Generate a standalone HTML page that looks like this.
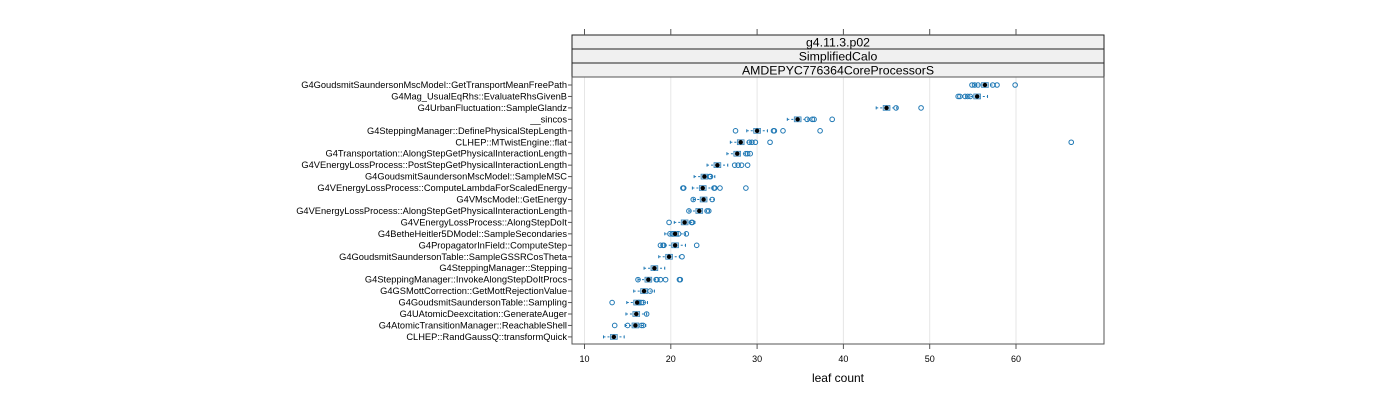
<!DOCTYPE html>
<html><head><meta charset="utf-8"><style>
body{margin:0;background:#fff}
svg{display:block;font-family:"Liberation Sans",sans-serif}
</style></head><body>
<svg id="chart" width="1400" height="400" xmlns="http://www.w3.org/2000/svg">
<g id="grid"></g>
<g id="strips"></g>
<g id="marks"></g>
<g id="axes"></g>
<text x="838" y="382" font-size="12" text-anchor="middle">leaf count</text>
</svg>
<script>
const categories = ["G4GoudsmitSaundersonMscModel::GetTransportMeanFreePath","G4Mag_UsualEqRhs::EvaluateRhsGivenB","G4UrbanFluctuation::SampleGlandz","__sincos","G4SteppingManager::DefinePhysicalStepLength","CLHEP::MTwistEngine::flat","G4Transportation::AlongStepGetPhysicalInteractionLength","G4VEnergyLossProcess::PostStepGetPhysicalInteractionLength","G4GoudsmitSaundersonMscModel::SampleMSC","G4VEnergyLossProcess::ComputeLambdaForScaledEnergy","G4VMscModel::GetEnergy","G4VEnergyLossProcess::AlongStepGetPhysicalInteractionLength","G4VEnergyLossProcess::AlongStepDoIt","G4BetheHeitler5DModel::SampleSecondaries","G4PropagatorInField::ComputeStep","G4GoudsmitSaundersonTable::SampleGSSRCosTheta","G4SteppingManager::Stepping","G4SteppingManager::InvokeAlongStepDoItProcs","G4GSMottCorrection::GetMottRejectionValue","G4GoudsmitSaundersonTable::Sampling","G4UAtomicDeexcitation::GenerateAuger","G4AtomicTransitionManager::ReachableShell","CLHEP::RandGaussQ::transformQuick"];
const medians = [56.4,55.5,45.0,34.7,30.0,28.1,27.7,25.4,23.9,23.7,23.8,23.3,21.6,20.5,20.5,19.8,18.1,17.4,16.9,16.1,16.0,15.9,13.4];
const points = [
 [54.9,55.2,55.6,57.3,57.8,59.9],
 [53.3,53.5,54.1,54.4,54.7],
 [46.1,49.0],
 [35.8,36.4,36.6,38.7],
 [27.5,31.9,32.0,33.0,37.3],
 [29.1,29.4,29.8,31.5,66.4],
 [28.7,28.9,29.2],
 [27.4,27.8,28.2,28.9],
 [24.5,24.6],
 [21.4,21.5,25.0,25.1,25.7,28.7],
 [22.6,24.8],
 [22.1,24.2,24.4],
 [19.8,22.4,22.5],
 [19.9,20.2,20.9,21.8],
 [18.8,19.1,19.2,23.0],
 [21.3],
 [],
 [16.2,18.3,18.4,18.8,19.4,21.0,21.1],
 [17.6],
 [13.2,16.3,16.6,16.8],
 [17.2],
 [13.5,15.0,16.6,16.8],
 []
];
const ticks = [10,20,30,40,50,60];
const strips = ["g4.11.3.p02","SimplifiedCalo","AMDEPYC776364CoreProcessorS"];

const NS="http://www.w3.org/2000/svg";
const PL=572,PR=1104,PT=77,PB=344;
const x=v=>584.5+(v-10)*8.63;
const y=i=>85+i*11.45;
function mk(tag,attrs,parent){const e=document.createElementNS(NS,tag);for(const k in attrs)e.setAttribute(k,attrs[k]);parent.appendChild(e);return e;}
const grid=document.getElementById('grid'),marks=document.getElementById('marks'),axes=document.getElementById('axes'),st=document.getElementById('strips');
mk('rect',{x:PL,y:PT,width:PR-PL,height:PB-PT,fill:'#fff',stroke:'none'},grid);
ticks.forEach(t=>{
 const g=mk('line',{x1:x(t),x2:x(t),y1:PT,y2:PB,stroke:'#e6e6e6','stroke-width':1},grid);
 
 
 mk('line',{x1:x(t),x2:x(t),y1:PB,y2:PB+5,stroke:'#555'},axes);
 mk('line',{x1:x(t),x2:x(t),y1:29,y2:35,stroke:'#555'},axes);
 const tl=mk('text',{x:x(t),y:362,'font-size':9,'text-anchor':'middle'},axes);
 tl.textContent=t;
 
 
});
strips.forEach((s,i)=>{
 const r=mk('rect',{x:PL,y:35+i*14,width:PR-PL,height:14,fill:'#f0f0f0',stroke:'#222','stroke-width':1},st);
 
 
 const t=mk('text',{x:838,y:46.5+i*14,'font-size':12.3,'text-anchor':'middle'},st);
 t.textContent=s;
 
 
});
mk('rect',{x:PL,y:PT,width:PR-PL,height:PB-PT,fill:'none',stroke:'#555','stroke-width':1},axes);
categories.forEach((c,i)=>{
 const yy=y(i);
 const lab=mk('text',{x:567,y:yy+3,'font-size':9.3,'text-anchor':'end'},axes);
 lab.textContent=c;
 
 
 mk('line',{x1:PL-4,x2:PL,y1:yy,y2:yy,stroke:'#555'},axes);
 const m=medians[i];
 const box=mk('g',{},marks);
 
 
 mk('line',{x1:x(m-1.2),x2:x(m+1.2),y1:yy,y2:yy,stroke:'#1f78b4','stroke-width':1,'stroke-dasharray':'2,2'},box);
 mk('line',{x1:x(m-1.2),x2:x(m-1.2),y1:yy-1.5,y2:yy+1.5,stroke:'#1f78b4'},box);
 mk('line',{x1:x(m+1.2),x2:x(m+1.2),y1:yy-1.5,y2:yy+1.5,stroke:'#1f78b4'},box);
 mk('rect',{x:x(m-0.4),y:yy-2.5,width:x(m+0.4)-x(m-0.4),height:5,fill:'#a8c8e0',stroke:'#1f78b4','stroke-width':0.6},box);
 points[i].forEach(p=>{
  const c=mk('circle',{cx:x(p),cy:yy,r:2.3,fill:'none',stroke:'#1f78b4','stroke-width':1},marks);
  
  
 });
 const md=mk('circle',{cx:x(m),cy:yy,r:2.2,fill:'#000'},marks);
 
 
});
</script>
</body></html>
